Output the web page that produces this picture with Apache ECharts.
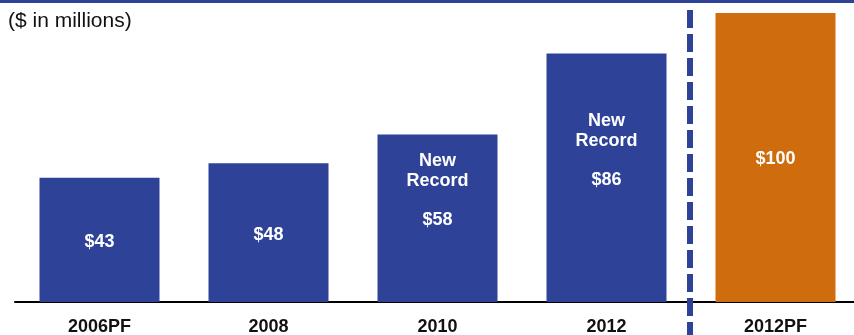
<!DOCTYPE html>
<html>
<head>
<meta charset="utf-8">
<script src="https://cdn.jsdelivr.net/npm/echarts@6/dist/echarts.min.js"></script>
<style>
  html, body { margin: 0; padding: 0; background: #fff; }
  #chart { width: 854px; height: 335px; }
</style>
</head>
<body>
<div id="chart"></div>
<script>
// Revenue by year, $ in millions
const categories = ['2006PF', '2008', '2010', '2012', '2012PF'];
const values = [43, 48, 58, 86, 100];
const recordYears = ['2010', '2012'];

const BLUE = '#2E4397';
const ORANGE = '#CF6C0E';
const FONT = '"Liberation Sans", Arial, sans-serif';

const seriesData = values.map((v, i) => {
  const cat = categories[i];
  const item = {
    value: v,
    itemStyle: { color: cat === '2012PF' ? ORANGE : BLUE }
  };
  if (recordYears.includes(cat)) {
    item.label = {
      formatter: '{n|New}\n{n|Record}\n{v|$' + v + '}',
      offset: [0, -18]
    };
  }
  return item;
});

const chart = echarts.init(document.getElementById('chart'));
chart.setOption({
  animation: false,
  grid: {
    left: 15, width: 845, top: 13, bottom: 33,
    containLabel: false, outerBoundsMode: 'none'
  },
  xAxis: {
    type: 'category',
    data: categories,
    axisLine: { lineStyle: { color: '#000', width: 2 } },
    axisTick: { length: 6, lineStyle: { color: '#000', width: 2 } },
    axisLabel: {
      color: '#111', fontFamily: FONT, fontWeight: 'bold', fontSize: 18, margin: 16
    }
  },
  yAxis: {
    type: 'value', min: 0, max: 100,
    show: false, splitLine: { show: false }
  },
  series: [{
    type: 'bar',
    data: seriesData,
    barWidth: 120,
    label: {
      show: true,
      position: 'inside',
      offset: [0, 2],
      color: '#fff',
      fontFamily: FONT,
      fontWeight: 'bold',
      fontSize: 18,
      formatter: p => '$' + p.value,
      rich: {
        n: { color: '#fff', fontFamily: FONT, fontWeight: 'bold', fontSize: 18, lineHeight: 20 },
        v: { color: '#fff', fontFamily: FONT, fontWeight: 'bold', fontSize: 18, lineHeight: 58 }
      }
    }
  }],
  graphic: [
    { type: 'rect', left: 0, top: 0, shape: { width: 854, height: 3 }, style: { fill: BLUE } },
    {
      type: 'text', left: 8, top: 11,
      style: { text: '($ in millions)', fill: '#111', font: '21px ' + FONT }
    },
    {
      type: 'line',
      shape: { x1: 690, y1: 10, x2: 690, y2: 335 },
      style: { stroke: BLUE, lineWidth: 6, lineDash: [18, 6] },
      z: 10
    }
  ]
});
</script>
</body>
</html>
